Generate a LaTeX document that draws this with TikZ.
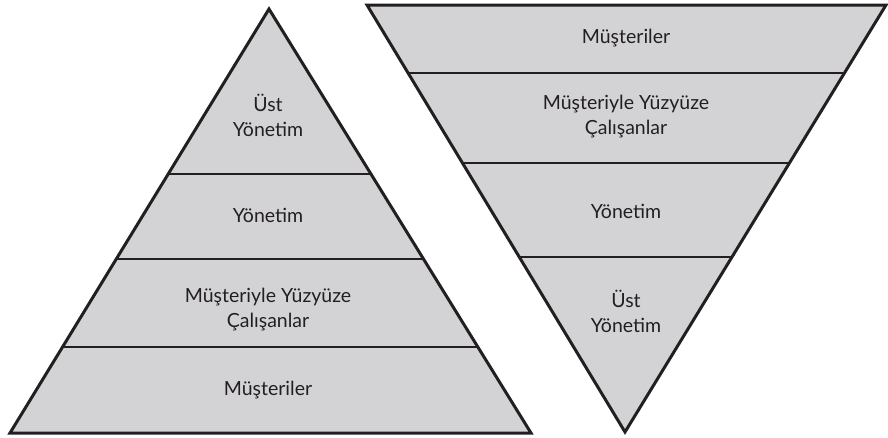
\documentclass[tikz,border=0pt]{standalone}
\usepackage{fontspec}
\setmainfont{Lato}
\definecolor{layerfill}{RGB}{211,211,213}
\definecolor{edge}{RGB}{35,31,32}
\tikzset{
  layer/.style={fill=layerfill},
  outline/.style={draw=edge, line width=3pt, line join=miter},
  divider/.style={draw=edge, line width=2pt},
  lbl/.style={font=\fontsize{19.5}{25}\selectfont, text=edge, align=center, inner sep=0pt}
}
\begin{document}
\begin{tikzpicture}[x=1pt, y=-1pt]
\useasboundingbox (0,0) rectangle (888,437);

% left pyramid
\coordinate (la) at (269,9);
\coordinate (ll) at (10,433);
\coordinate (lr) at (531,433);
\fill[layer] (la) -- (lr) -- (ll) -- cycle;
\begin{scope}
  \clip (la) -- (lr) -- (ll) -- cycle;
  \draw[divider] (0,174) -- (560,174);
  \draw[divider] (0,259) -- (560,259);
  \draw[divider] (0,347) -- (560,347);
\end{scope}
\draw[outline] (la) -- (lr) -- (ll) -- cycle;

\node[lbl] (l1) at (268,115) {Üst\\Yönetim};
\node[lbl] (l2) at (268,215) {Yönetim};
\node[lbl] (l3) at (268,310) {Müşteriyle Yüzyüze\\Çalışanlar};
\node[lbl] (l4) at (268,390) {Müşteriler};

% inverted pyramid
\coordinate (rl) at (367,5);
\coordinate (rr) at (886,5);
\coordinate (ra) at (625,432);
\fill[layer] (rl) -- (rr) -- (ra) -- cycle;
\begin{scope}
  \clip (rl) -- (rr) -- (ra) -- cycle;
  \draw[divider] (350,73) -- (888,73);
  \draw[divider] (350,163) -- (888,163);
  \draw[divider] (350,257) -- (888,257);
\end{scope}
\draw[outline] (rl) -- (rr) -- (ra) -- cycle;

\node[lbl] (r1) at (626,38) {Müşteriler};
\node[lbl] (r2) at (626,117) {Müşteriyle Yüzyüze\\Çalışanlar};
\node[lbl] (r3) at (626,211) {Yönetim};
\node[lbl] (r4) at (626,311) {Üst\\Yönetim};
\end{tikzpicture}
\end{document}
